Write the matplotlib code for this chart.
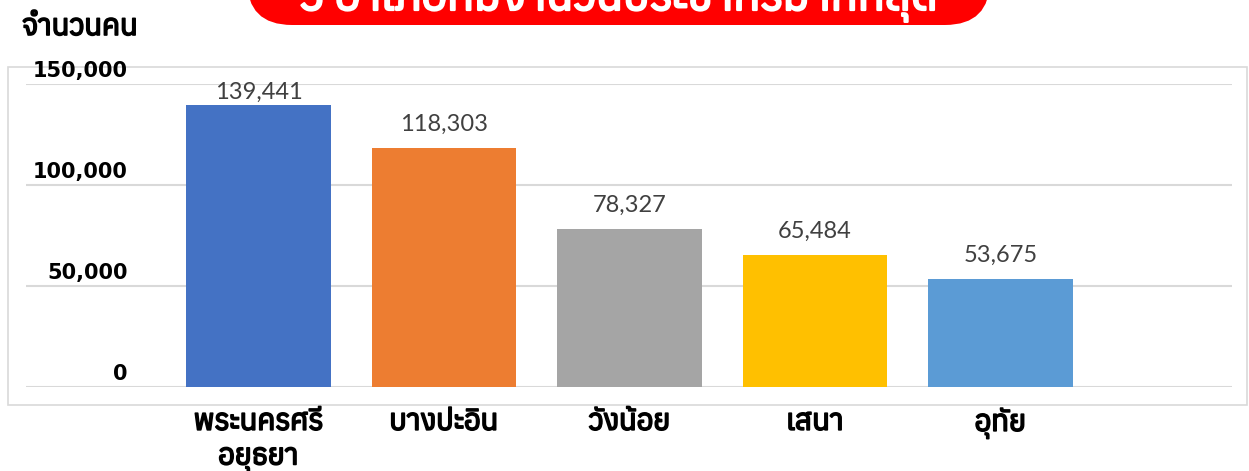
import matplotlib
matplotlib.use("Agg")
import matplotlib.pyplot as plt
from matplotlib import font_manager, patheffects
from matplotlib.ft2font import FT2Font
from matplotlib.patches import FancyBboxPatch, Rectangle

# data
districts = ["พระนครศรี\nอยุธยา", "บางปะอิน", "วังน้อย", "เสนา", "อุทัย"]
people = [139441, 118303, 78327, 65484, 53675]
colors = ["#4472C4", "#ED7D31", "#A5A5A5", "#FFC000", "#5B9BD5"]
yticks = [0, 50000, 100000, 150000]
title = "5 อำเภอที่มีจำนวนประชากรมากที่สุด"
ylabel = "จำนวนคน"

# find a font that has thai glyphs
thai_fonts = []
for f in font_manager.fontManager.ttflist:
    try:
        if ord("ก") in FT2Font(f.fname).get_charmap():
            thai_fonts.append(f.name)
    except Exception:
        pass
thai_fonts = sorted(set(thai_fonts))
fam = thai_fonts + ["DejaVu Sans"]

# thai font has no bold face, fake it with a stroke
def fat(c, w=1.2):
    return [patheffects.withStroke(linewidth=w, foreground=c)]

W, H = 1249, 471
fig = plt.figure(figsize=(W / 100, H / 100), dpi=100)

def px(x, y):
    return x / W, 1 - y / H

# chart area border
fig.patches.append(Rectangle(px(8, 405), 1239 / W, 338 / H, transform=fig.transFigure,
                             facecolor="white", edgecolor="#d9d9d9", lw=1.2, zorder=-5))

l, b = px(26, 387)
r, t = px(1232, 84)
ax = fig.add_axes([l, b, r - l, t - b])
ax.set_facecolor("none")
x = range(len(people))
ax.bar(x, people, width=0.78, color=colors, zorder=3)
ax.set_xlim(-1.253, 5.248)
ax.set_ylim(0, 150000)
for v in yticks:
    ax.axhline(v, color="#d9d9d9", lw=1.5, zorder=1)
for s in ax.spines.values():
    s.set_visible(False)
ax.set_xticks([])
ax.set_yticks([])

# y tick labels sit above the gridlines
for v in yticks:
    ax.annotate(f"{v:,}", xy=(128 / W, v), xycoords=("figure fraction", "data"),
                xytext=(0, 2), textcoords="offset points", ha="right", va="bottom",
                fontsize=15, fontweight="bold", color="black", family="DejaVu Sans")

# value labels
for i, v in enumerate(people):
    ax.text(i, min(v + 6500, 140600), f"{v:,}", ha="center", va="bottom",
            fontsize=17, color="#404040", family=["Lato", "DejaVu Sans"])

# category labels
for i, name in enumerate(districts):
    ax.annotate(name, xy=(i, 0), xycoords="data", xytext=(0, -15),
                textcoords="offset points", ha="center", va="top",
                fontsize=21, fontweight="bold", color="black", family=fam,
                linespacing=1.3, annotation_clip=False, path_effects=fat("black"))

fig.text(22 / W, 1 - 27 / H, ylabel, ha="left", va="center", fontsize=21,
         fontweight="bold", color="black", family=fam, path_effects=fat("black"))

# red banner cut by the top edge (display pixels)
fig.patches.append(FancyBboxPatch((247, H - 25), 743, 80, transform=None,
                                  boxstyle="round,pad=0,rounding_size=45",
                                  facecolor="#FF0000", edgecolor="none"))
fig.text(618 / W, 1 - 10 / H, title, ha="center", va="baseline", fontsize=32,
         fontweight="bold", color="white", family=fam, path_effects=fat("white", 1.6))

fig.savefig("out.png", dpi=100)
